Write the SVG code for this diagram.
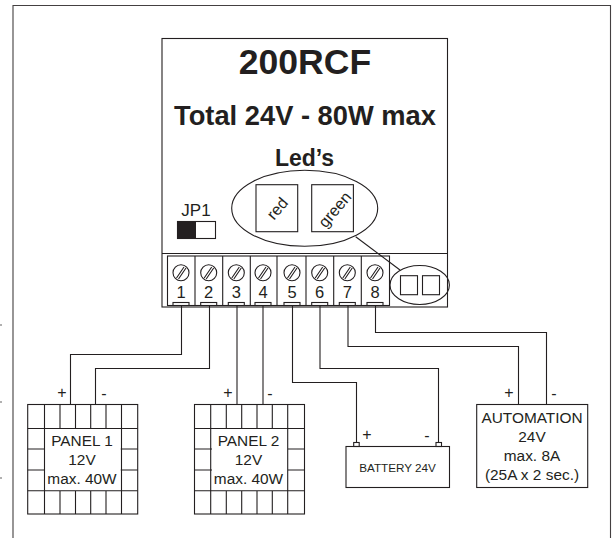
<svg xmlns="http://www.w3.org/2000/svg" width="616" height="538" viewBox="0 0 616 538">
<style>
text{font-family:"Liberation Sans",Arial,sans-serif;fill:#231f20;text-anchor:middle}
.b{font-weight:bold}
.l{fill:none;stroke:#231f20;stroke-width:1.1}
.w{fill:#fff;stroke:#231f20;stroke-width:1.1}
.t{font-size:15.400px}
.p{font-size:16px}
.s{font-size:16.500px}
</style>
<rect width="616" height="538" fill="#fff"/>
<path id="frame" class="l" d="M13 538V5.500H610.500V538" stroke-opacity=".85"/>
<path id="ticks" class="l" d="M0 325H2M0 402H2M0 478H2" stroke-opacity=".7"/>
<g id="controller">
<rect class="w" x="162" y="38.500" width="285.500" height="268.500"/>
<path class="l" d="M162 253.500H447.500"/>
<text class="b" x="305" y="74" font-size="35.600">200RCF</text>
<text class="b" x="305" y="124.500" font-size="27.300">Total 24V - 80W max</text>
<text class="b" x="304.500" y="165.500" font-size="23">Led’s</text>
</g>
<g id="jp1">
<text x="196" y="215.500" font-size="17">JP1</text>
<rect class="w" x="177.500" y="221.500" width="38" height="17"/>
<rect x="177" y="221" width="19" height="18" fill="#231f20"/>
</g>
<g id="leds">
<ellipse class="l" cx="304.700" cy="208.300" rx="73" ry="38"/>
<rect class="l" x="256" y="184.700" width="41.700" height="47"/>
<rect class="l" x="311.700" y="184.700" width="41.700" height="47"/>
<text transform="translate(281.500 212) rotate(-50)" font-size="16">red</text>
<text transform="translate(339 213) rotate(-50)" font-size="16">green</text>
<path class="l" d="M355.700 236.700L400 270"/>
</g>
<g id="led-window">
<ellipse class="l" cx="419.700" cy="285" rx="29.700" ry="19.500"/>
<rect class="l" x="400.500" y="275.700" width="17" height="19"/>
<rect class="l" x="422.500" y="275.700" width="17" height="19"/>
</g>
<g id="terminals">
<rect class="l" x="167.500" y="256" width="222" height="49.500"/>
<path class="l" d="M195 256V305.500M222.700 256V305.500M250.300 256V305.500M277 256V305.500M306 256V305.500M333.700 256V305.500M361.300 256V305.500"/>
<g id="t1"><circle class="l" cx="181" cy="272.700" r="8"/><path class="l" d="M176.500 278L184 267M178.500 279L186 268"/><text class="s" x="181" y="298">1</text><rect class="w" x="173" y="302.500" width="16" height="3"/></g>
<g id="t2"><circle class="l" cx="208.700" cy="272.700" r="8"/><path class="l" d="M204.200 278L211.700 267M206.200 279L213.700 268"/><text class="s" x="208.700" y="298">2</text><rect class="w" x="200.700" y="302.500" width="16" height="3"/></g>
<g id="t3"><circle class="l" cx="236.300" cy="272.700" r="8"/><path class="l" d="M231.800 278L239.300 267M233.800 279L241.300 268"/><text class="s" x="236.300" y="298">3</text><rect class="w" x="228.300" y="302.500" width="16" height="3"/></g>
<g id="t4"><circle class="l" cx="263" cy="272.700" r="8"/><path class="l" d="M258.500 278L266 267M260.500 279L268 268"/><text class="s" x="263" y="298">4</text><rect class="w" x="255" y="302.500" width="16" height="3"/></g>
<g id="t5"><circle class="l" cx="292" cy="272.700" r="8"/><path class="l" d="M287.500 278L295 267M289.500 279L297 268"/><text class="s" x="292" y="298">5</text><rect class="w" x="284" y="302.500" width="16" height="3"/></g>
<g id="t6"><circle class="l" cx="319.700" cy="272.700" r="8"/><path class="l" d="M315.200 278L322.700 267M317.200 279L324.700 268"/><text class="s" x="319.700" y="298">6</text><rect class="w" x="311.700" y="302.500" width="16" height="3"/></g>
<g id="t7"><circle class="l" cx="347.300" cy="272.700" r="8"/><path class="l" d="M342.800 278L350.300 267M344.800 279L352.300 268"/><text class="s" x="347.300" y="298">7</text><rect class="w" x="339.300" y="302.500" width="16" height="3"/></g>
<g id="t8"><circle class="l" cx="375" cy="272.700" r="8"/><path class="l" d="M370.500 278L378 267M372.500 279L380 268"/><text class="s" x="375" y="298">8</text><rect class="w" x="367" y="302.500" width="16" height="3"/></g>
</g>
<g id="connectors" class="l">
<path d="M181.500 306V354.500H70.500V404"/>
<path d="M209.500 306V368.500H95.500V404"/>
<path d="M237 306V404"/>
<path d="M263 306V404"/>
<path d="M292.500 306V382.500H356.500V442"/>
<path d="M320 306V368.500H438.500V442"/>
<path d="M348 306V346.500H518.500V404"/>
<path d="M375.500 306V332.500H546.500V404"/>
</g>
<g id="panel1">
<rect class="l" x="27.700" y="404.500" width="110" height="109.500"/>
<path class="l" d="M27.700 428.500H137.700M27.700 449H45M27.700 470H45M120.700 449H137.700M120.700 470H137.700M27.700 490.700H137.700M44.500 404.500V514M60 404.500V428.500M75.500 404.500V428.500M90.700 404.500V428.500M106 404.500V428.500M121.500 404.500V514M60 490.700V514M75.500 490.700V514M90.700 490.700V514M106 490.700V514"/>
<text class="t" x="82" y="445.500">PANEL 1</text>
<text class="t" x="82" y="464.500">12V</text>
<text class="t" x="82" y="483.500">max. 40W</text>
<text class="p" x="62" y="398">+</text>
<text class="p" x="104" y="399">-</text>
</g>
<g id="panel2">
<rect class="l" x="194.500" y="404.500" width="110" height="109.500"/>
<path class="l" d="M194.500 428.500H304.500M194.500 449H212M194.500 470H212M287.500 449H304.500M287.500 470H304.500M194.500 490.700H304.500M210.700 404.500V514M226.300 404.500V428.500M241.700 404.500V428.500M257 404.500V428.500M272.300 404.500V428.500M287.700 404.500V514M226.300 490.700V514M241.700 490.700V514M257 490.700V514M272.300 490.700V514"/>
<text class="t" x="248.500" y="445.500">PANEL 2</text>
<text class="t" x="248.500" y="464.500">12V</text>
<text class="t" x="248.500" y="483.500">max. 40W</text>
<text class="p" x="228" y="398">+</text>
<text class="p" x="270" y="399">-</text>
</g>
<g id="battery">
<rect class="l" x="346" y="446.500" width="103.500" height="41"/>
<rect class="l" x="353.700" y="442.500" width="5.500" height="4"/>
<rect class="l" x="436" y="442.500" width="5.500" height="4"/>
<text x="397.500" y="471.500" font-size="11.700">BATTERY 24V</text>
<text class="p" x="367" y="440">+</text>
<text class="p" x="427" y="441">-</text>
</g>
<g id="automation">
<rect class="l" x="476.700" y="404.500" width="111" height="83"/>
<text class="t" x="532" y="422.500">AUTOMATION</text>
<text class="t" x="532" y="441.500">24V</text>
<text class="t" x="532" y="461">max. 8A</text>
<text class="t" x="532" y="480">(25A x 2 sec.)</text>
<text class="p" x="509" y="398">+</text>
<text class="p" x="554" y="399">-</text>
</g>
</svg>
